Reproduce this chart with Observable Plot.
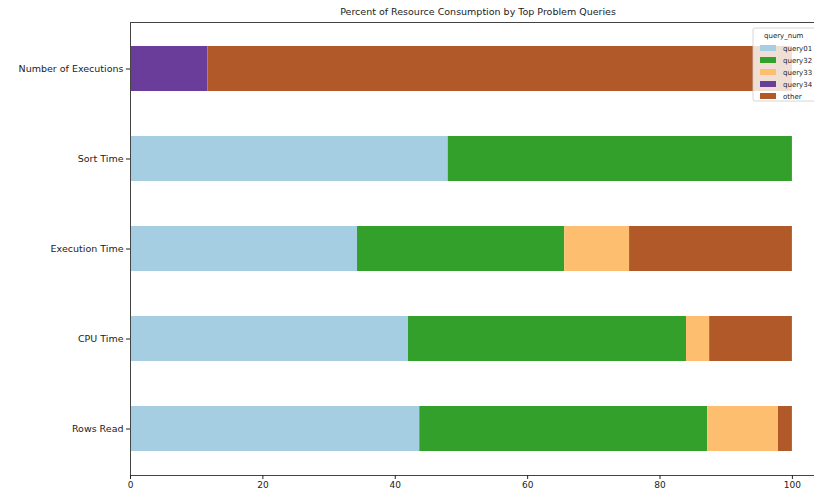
<!DOCTYPE html>
<html>
<head>
<meta charset="utf-8">
<script src="https://cdn.jsdelivr.net/npm/d3@7"></script>
<script src="https://cdn.jsdelivr.net/npm/@observablehq/plot@0.6"></script>
<style>
  html, body { margin: 0; padding: 0; background: #fff; overflow: hidden; }
  svg { display: block; }
</style>
</head>
<body>
<div id="chart"></div>
<script>
const metrics = ["Number of Executions", "Sort Time", "Execution Time", "CPU Time", "Rows Read"];
const seriesNames = ["query01", "query32", "query33", "query34", "other"];
const seriesColors = ["#a6cee3", "#33a02c", "#fdbf6f", "#6a3d9a", "#b15928"];
const query01 = [0, 48.0, 34.3, 42.0, 43.7];
const query32 = [0, 52.0, 31.3, 42.0, 43.5];
const query33 = [0, 0, 9.8, 3.5, 10.7];
const query34 = [11.7, 0, 0, 0, 0];
const other   = [88.3, 0, 24.6, 12.5, 2.1];
const xTicks = [0, 20, 40, 60, 80, 100];
const title = "Percent of Resource Consumption by Top Problem Queries";
const legendTitle = "query_num";

const seriesValues = [query01, query32, query33, query34, other];
const rows = [];
seriesNames.forEach((s, si) => {
  metrics.forEach((m, mi) => {
    const v = seriesValues[si][mi];
    if (v > 0) rows.push({metric: m, series: s, value: v});
  });
});

const font = "DejaVu Sans, sans-serif";
const plot = Plot.plot({
  width: 814,
  height: 493,
  marginLeft: 130,
  marginRight: -11,
  marginTop: 22,
  marginBottom: 18,
  style: {fontFamily: font, fontSize: "9.5px", background: "#fff", color: "#222"},
  x: {domain: [0, 105], ticks: xTicks, label: null},
  y: {domain: metrics, paddingInner: 0.5, paddingOuter: 0.25, label: null},
  color: {domain: seriesNames, range: seriesColors},
  marks: [
    Plot.barX(rows, Plot.stackX({x: "value", y: "metric", fill: "series", order: seriesNames})),
    Plot.frame({stroke: "#444", strokeWidth: 1}),
    Plot.axisX({ticks: xTicks, tickSize: 4, tickPadding: 2, label: null, fontSize: 9}),
    Plot.axisY({tickSize: 4, tickPadding: 3, label: null, fontSize: 9.5}),
    Plot.text([title], {frameAnchor: "top", dy: -14, text: d => d, fontSize: 9.5, fill: "#222"})
  ]
});
document.getElementById("chart").appendChild(plot);

// legend (matplotlib-style box in the upper right)
const svg = d3.select(plot);
const color = plot.scale("color");
const lg = svg.append("g").attr("font-family", font).attr("font-size", 7).attr("text-anchor", "start");
lg.append("rect").attr("x", 753).attr("y", 28).attr("width", 70).attr("height", 73)
  .attr("rx", 2).attr("fill", "#fff").attr("fill-opacity", 0.8).attr("stroke", "#ccc").attr("stroke-width", 0.8);
lg.append("text").attr("x", 764).attr("y", 38).attr("fill", "#222").text(legendTitle);
color.domain.forEach((s, i) => {
  const cy = 48 + i * 12;
  lg.append("rect").attr("x", 760).attr("y", cy - 3).attr("width", 16).attr("height", 6).attr("fill", color.apply(s));
  lg.append("text").attr("x", 783).attr("y", cy + 2.5).attr("fill", "#222").text(s);
});
</script>
</body>
</html>
